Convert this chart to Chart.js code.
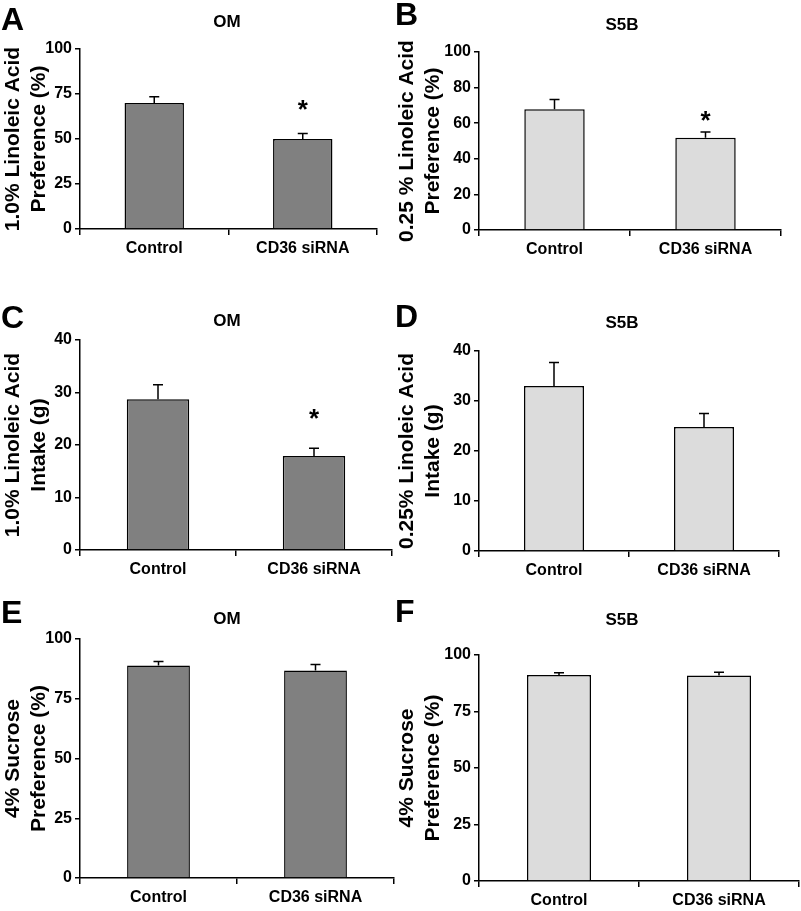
<!DOCTYPE html>
<html>
<head>
<meta charset="utf-8">
<script src="https://cdn.jsdelivr.net/npm/chart.js@4.4.0/dist/chart.umd.min.js"></script>
<style>
    body { margin: 0; background: #fff; width: 801px; height: 911px; position: relative; overflow: hidden;
           font-family: "Liberation Sans", Arial, sans-serif; color: #000; }
    .panel { position: absolute; }
    .letter { position: absolute; font-weight: bold; font-size: 32px; line-height: 32px; }
    .title { position: absolute; width: 200px; text-align: center; font-weight: bold; font-size: 17px; line-height: 20px; }
</style>
</head>
<body>
<script>
// two-choice test data, mean and SEM per group
var categories = ['Control', 'CD36 siRNA'];

var omPreference = [70, 50];
var omPreferenceSem = [3.5, 3];
var s5bPreference = [67.9, 51.8];
var s5bPreferenceSem = [5.4, 3.3];

var omIntake = [28.7, 17.9];
var omIntakeSem = [2.8, 1.5];
var s5bIntake = [33, 24.8];
var s5bIntakeSem = [4.7, 2.7];

var omSucrose = [88.9, 86.8];
var omSucroseSem = [1.7, 2.5];
var s5bSucrose = [91.2, 90.9];
var s5bSucroseSem = [1.0, 1.5];

var sigStars = ['', '*'];
var noStars = ['', ''];

var DARK = '#808080';
var LIGHT = '#dcdcdc';

var panels = [
    { letter: 'A', subject: 'OM', values: omPreference, sem: omPreferenceSem, stars: sigStars, fill: DARK,
      yTitle: ['1.0% Linoleic Acid', 'Preference (%)'], max: 100, step: 25,
      box: { left: -4, top: 0, width: 404, height: 262 }, plot: { left: 80, right: 377, top: 49, bottom: 229 },
      letterAt: [1, 3], titleAt: [227, 21.5], starGap: 30 },
    { letter: 'B', subject: 'S5B', values: s5bPreference, sem: s5bPreferenceSem, stars: sigStars, fill: LIGHT,
      yTitle: ['0.25 % Linoleic Acid', 'Preference (%)'], max: 100, step: 20,
      box: { left: 392, top: 0, width: 409, height: 262 }, plot: { left: 479, right: 781, top: 52, bottom: 230 },
      letterAt: [395, -2], titleAt: [622, 25], starGap: 17 },
    { letter: 'C', subject: 'OM', values: omIntake, sem: omIntakeSem, stars: sigStars, fill: DARK,
      yTitle: ['1.0% Linoleic Acid', 'Intake (g)'], max: 40, step: 10,
      box: { left: -4, top: 295, width: 404, height: 290 }, plot: { left: 80, right: 392, top: 340, bottom: 550 },
      letterAt: [1, 301], titleAt: [227, 320.5], starGap: 35 },
    { letter: 'D', subject: 'S5B', values: s5bIntake, sem: s5bIntakeSem, stars: noStars, fill: LIGHT,
      yTitle: ['0.25% Linoleic Acid', 'Intake (g)'], max: 40, step: 10,
      box: { left: 392, top: 295, width: 409, height: 290 }, plot: { left: 479, right: 779, top: 351, bottom: 551 },
      letterAt: [395, 300], titleAt: [622, 322.5], starGap: 30 },
    { letter: 'E', subject: 'OM', values: omSucrose, sem: omSucroseSem, stars: noStars, fill: DARK,
      yTitle: ['4% Sucrose', 'Preference (%)'], max: 100, step: 25,
      box: { left: -4, top: 590, width: 404, height: 321 }, plot: { left: 80, right: 394, top: 639, bottom: 878 },
      letterAt: [1, 596], titleAt: [227, 618.5], starGap: 30 },
    { letter: 'F', subject: 'S5B', values: s5bSucrose, sem: s5bSucroseSem, stars: noStars, fill: LIGHT,
      yTitle: ['4% Sucrose', 'Preference (%)'], max: 100, step: 25,
      box: { left: 392, top: 590, width: 409, height: 321 }, plot: { left: 479, right: 799, top: 655, bottom: 881 },
      letterAt: [395, 595], titleAt: [622, 619.5], starGap: 30 }
];

Chart.defaults.font.family = '"Liberation Sans", Arial, sans-serif';
Chart.defaults.color = '#000';

// upward SEM whiskers and significance stars
var errorBarPlugin = {
    id: 'errorBars',
    afterDatasetsDraw: function (chart, args, opts) {
        var ctx = chart.ctx;
        var xs = chart.scales.x;
        var ys = chart.scales.y;
        var values = chart.data.datasets[0].data;
        ctx.save();
        ctx.strokeStyle = '#000';
        ctx.lineWidth = 1.5;
        values.forEach(function (v, i) {
            var px = xs.getPixelForValue(i);
            var base = ys.getPixelForValue(v);
            var top = ys.getPixelForValue(v + opts.sem[i]);
            ctx.beginPath();
            ctx.moveTo(px, base);
            ctx.lineTo(px, top);
            ctx.moveTo(px - 5, top);
            ctx.lineTo(px + 5, top);
            ctx.stroke();
            if (opts.stars[i]) {
                ctx.fillStyle = '#000';
                ctx.font = 'bold 26px "Liberation Sans", Arial, sans-serif';
                ctx.textAlign = 'center';
                ctx.textBaseline = 'alphabetic';
                ctx.fillText(opts.stars[i], px, top - opts.starGap + 14);
            }
        });
        ctx.restore();
    }
};

function addText(cls, text, left, top) {
    var el = document.createElement('div');
    el.className = cls;
    el.textContent = text;
    el.style.left = left + 'px';
    el.style.top = top + 'px';
    document.body.appendChild(el);
}

panels.forEach(function (p) {
    var b = p.box;
    var wrap = document.createElement('div');
    wrap.className = 'panel';
    wrap.style.left = b.left + 'px';
    wrap.style.top = b.top + 'px';
    var canvas = document.createElement('canvas');
    canvas.width = b.width;
    canvas.height = b.height;
    wrap.appendChild(canvas);
    document.body.appendChild(wrap);

    addText('letter', p.letter, p.letterAt[0], p.letterAt[1]);
    addText('title', p.subject, p.titleAt[0] - 100, p.titleAt[1] - 10);

    var yWidth = p.plot.left - b.left;
    var xHeight = b.top + b.height - p.plot.bottom;
    var tickFont = { size: 16, weight: 'bold' };

    new Chart(canvas, {
        type: 'bar',
        data: {
            labels: categories,
            datasets: [{
                data: p.values,
                backgroundColor: p.fill,
                borderColor: '#000',
                borderWidth: 1.5,
                barPercentage: 0.4,
                categoryPercentage: 1
            }]
        },
        options: {
            responsive: false,
            animation: false,
            devicePixelRatio: 1,
            layout: {
                padding: { top: p.plot.top - b.top, right: b.left + b.width - p.plot.right, left: 0, bottom: 0 }
            },
            plugins: {
                legend: { display: false },
                tooltip: { enabled: false },
                errorBars: { sem: p.sem, stars: p.stars, starGap: p.starGap }
            },
            scales: {
                x: {
                    grid: { offset: true, drawOnChartArea: false, color: '#000', lineWidth: 1.5, tickLength: 6 },
                    border: { color: '#000', width: 1.5 },
                    ticks: { color: '#000', font: tickFont, padding: 4, maxRotation: 0 },
                    afterFit: function (s) { s.height = xHeight; }
                },
                y: {
                    min: 0,
                    max: p.max,
                    ticks: { stepSize: p.step, color: '#000', font: tickFont, padding: 3 },
                    grid: { drawOnChartArea: false, color: '#000', lineWidth: 1.5, tickLength: 5 },
                    border: { color: '#000', width: 1.5 },
                    title: {
                        display: true,
                        text: p.yTitle,
                        color: '#000',
                        font: { size: 21, weight: 'bold', lineHeight: 1.24 },
                        padding: { top: b.left < 0 ? 4 : 2, bottom: 0 }
                    },
                    afterFit: function (s) { s.width = yWidth; }
                }
            }
        },
        plugins: [errorBarPlugin]
    });
});
</script>
</body>
</html>
